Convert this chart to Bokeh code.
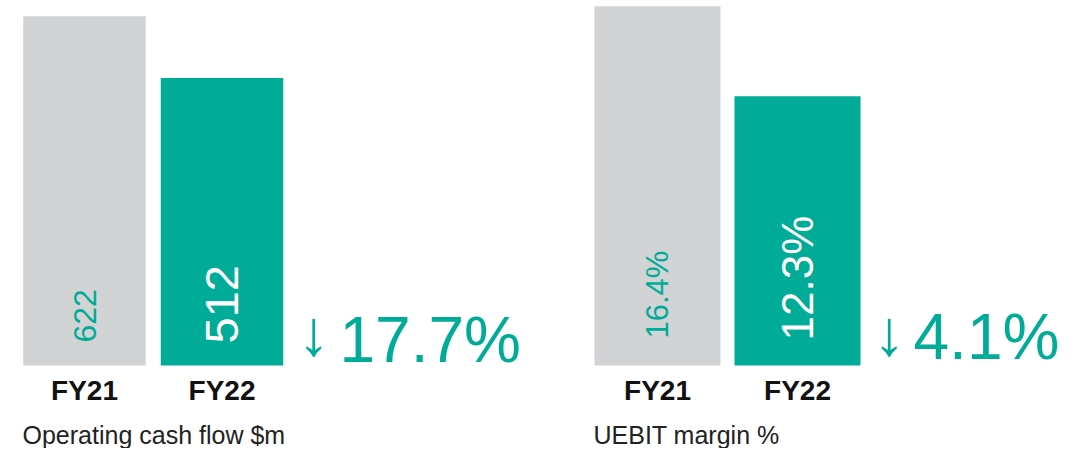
import math
from bokeh.plotting import figure
from bokeh.layouts import row
from bokeh.models import Range1d, ColumnDataSource
from bokeh.core.properties import value
from bokeh.embed import file_html
from bokeh.resources import INLINE

# ---- data ----
categories = ["FY21", "FY22"]
ocf_values = [622, 512]
ocf_labels = ["622", "512"]
uebit_values = [16.4, 12.3]
uebit_labels = ["16.4%", "12.3%"]
ocf_change = "17.7%"
uebit_change = "4.1%"
arrow_symbol = "\u2193"
titles = ["Operating cash flow $m", "UEBIT margin %"]

# ---- styles ----
GRAY = "#D1D3D4"
TEAL = "#00AB97"
bar_colors = [GRAY, TEAL]
label_colors = [TEAL, "#FFFFFF"]
FONT = value("Liberation Sans")
H = 448


def panel(width, first_center_px, pitch_px, bar_w_px, base_px, unit_px,
          values, labels, label_sizes, label_bottoms, change, title,
          arrow_x, arrow_y, change_x, change_y, title_x):
    # all *_x / *_y arguments are screen pixels inside this figure
    def dx(px):
        return (px - first_center_px) / pitch_px

    def dy(py):
        return (base_px - py) / unit_px

    p = figure(width=width, height=H,
               x_range=Range1d(dx(0), dx(width)),
               y_range=Range1d(dy(H), dy(0)),
               output_backend="svg", toolbar_location=None,
               x_axis_location=None, y_axis_location=None,
               min_border=0, min_border_left=0, min_border_right=0,
               min_border_top=0, min_border_bottom=0)
    p.grid.visible = False
    p.outline_line_color = None
    p.background_fill_color = "white"
    p.border_fill_color = "white"

    idx = list(range(len(categories)))
    src = ColumnDataSource(dict(
        x=idx, top=values, color=bar_colors, label=labels,
        lcolor=label_colors, lsize=label_sizes, cat=categories,
        ly=[dy(b) for b in label_bottoms],
        cy=[dy(389.5)] * len(idx),
    ))
    p.vbar(x="x", top="top", bottom=0, width=bar_w_px / pitch_px,
           fill_color="color", line_color=None, source=src)

    p.text(x="x", y="ly", text="label", angle=math.pi / 2,
           text_align="left", text_baseline="middle",
           text_color="lcolor", text_font_size="lsize", text_font=FONT,
           source=src)

    p.text(x="x", y="cy", text="cat", text_align="center",
           text_baseline="middle", text_color="#111111",
           text_font_size="28px", text_font_style="bold", text_font=FONT,
           source=src)

    p.text(x=[dx(arrow_x)], y=[dy(arrow_y)], text=[arrow_symbol],
           text_align="center", text_baseline="middle",
           text_color=TEAL, text_font_size="64px", text_font=FONT)
    p.text(x=[dx(change_x)], y=[dy(change_y)], text=[change],
           text_align="left", text_baseline="middle",
           text_color=TEAL, text_font_size="64px", text_font=FONT)

    p.text(x=[dx(title_x)], y=[dy(434)], text=[title],
           text_align="left", text_baseline="middle",
           text_color="#222222", text_font_size="25px", text_font=FONT)
    return p


left = panel(560, 84, 137.5, 122.5, 365, 0.5613, ocf_values, ocf_labels,
             ["32px", "47px"], [342, 343], ocf_change, titles[0],
             arrow_x=313, arrow_y=332.5, change_x=339, change_y=339,
             title_x=22)
right = panel(524, 97, 140, 126, 365, 21.9, uebit_values, uebit_labels,
              ["31px", "44px"], [338, 340], uebit_change, titles[1],
              arrow_x=328.5, arrow_y=332.5, change_x=353, change_y=336.5,
              title_x=33)

layout = row(left, right)
open("out.html", "w").write(file_html(layout, INLINE))
